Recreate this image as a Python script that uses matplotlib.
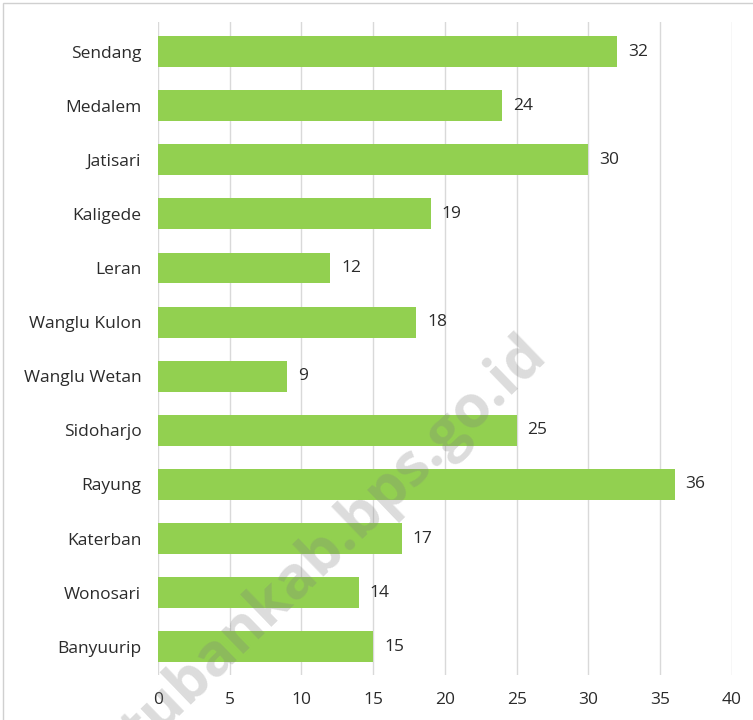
import matplotlib.pyplot as plt
import numpy as np
from matplotlib.patches import Rectangle

desa = ['Sendang', 'Medalem', 'Jatisari', 'Kaligede', 'Leran', 'Wanglu Kulon',
        'Wanglu Wetan', 'Sidoharjo', 'Rayung', 'Katerban', 'Wonosari', 'Banyuurip']
jumlah = [32, 24, 30, 19, 12, 18, 9, 25, 36, 17, 14, 15]
xticks = [0, 5, 10, 15, 20, 25, 30, 35, 40]

plt.rcParams['font.family'] = ['Open Sans', 'DejaVu Sans']
teks = '#2b2b2b'

fig = plt.figure(figsize=(7.53, 7.2), dpi=100)
ax = fig.add_axes([0.2098, 0.0625, 0.7623, 0.9065])

y = np.arange(len(desa))
ax.barh(y, jumlah, height=0.57, color='#92D050', zorder=2)
for yi, v in zip(y, jumlah):
    ax.text(v + 0.75, yi, str(v), va='center', ha='left', fontsize=12.5, color=teks)

ax.set_yticks(y)
ax.set_yticklabels(desa, fontsize=12.5, color=teks)
ax.set_ylim(len(desa) - 0.48, -0.54)
ax.set_xlim(0, 40)
ax.set_xticks(xticks)
ax.set_xticklabels([str(t) for t in xticks], fontsize=12.5, color=teks)
ax.tick_params(length=0, axis='y', pad=12)
ax.tick_params(length=0, axis='x', pad=12)
ax.grid(axis='x', color='#d9d9d9', linewidth=1, zorder=0)
for s in ax.spines.values():
    s.set_visible(False)

# bingkai grafik
fig.patches.append(Rectangle((3 / 753, -0.1), 1.1, 1.1 - 3 / 720,
                             transform=fig.transFigure, fill=False,
                             edgecolor='#d0d0d0', linewidth=1))

# watermark
fig.text(0.445, 0.245, 'tubankab.bps.go.id', rotation=44, fontsize=42.5,
         fontweight='bold', color='#7f7f7f', alpha=0.27,
         ha='center', va='center', family=['Open Sans', 'DejaVu Sans'], zorder=10)

fig.savefig('out.png', dpi=100)
